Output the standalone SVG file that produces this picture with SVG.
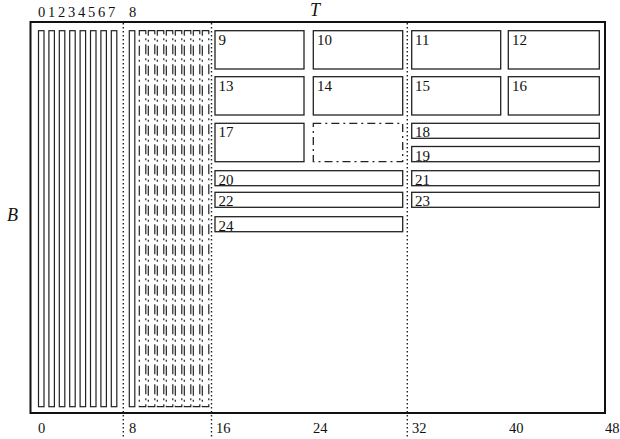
<svg xmlns="http://www.w3.org/2000/svg" width="620" height="439" viewBox="0 0 620 439">
<style>
text{font-family:"Liberation Serif","Times New Roman",serif;fill:#111}
.lbl{font-size:15px}
.ax{font-size:14.5px}
.it{font-size:18px;font-style:italic}
.bar{fill:none;stroke:#222;stroke-width:1.2}
.dd{fill:none;stroke:#222;stroke-width:1.2;stroke-dasharray:10 4 2 4}
.box{fill:none;stroke:#222;stroke-width:1.3}
.dot{fill:none;stroke:#222;stroke-width:1.4;stroke-dasharray:1.5 2.5}
</style>
<rect id="frame" x="30.5" y="22" width="574.5" height="391" fill="none" stroke="#111" stroke-width="2"/>
<g id="guides">
<line class="dot" x1="123.3" y1="23" x2="123.3" y2="437"/>
<line class="dot" x1="211.5" y1="23" x2="211.5" y2="437"/>
<line class="dot" x1="407.3" y1="23" x2="407.3" y2="437"/>
</g>
<g id="bars">
<rect class="bar" x="38.5" y="30.7" width="5.5" height="376"/>
<rect class="bar" x="48.9" y="30.7" width="5.5" height="376"/>
<rect class="bar" x="59.3" y="30.7" width="5.5" height="376"/>
<rect class="bar" x="69.7" y="30.7" width="5.5" height="376"/>
<rect class="bar" x="80.1" y="30.7" width="5.5" height="376"/>
<rect class="bar" x="90.5" y="30.7" width="5.5" height="376"/>
<rect class="bar" x="100.9" y="30.7" width="5.5" height="376"/>
<rect class="bar" x="111.3" y="30.7" width="5.5" height="376"/>
<rect class="bar" x="129.3" y="30.7" width="5.5" height="376"/>
</g>
<g id="dashbars">
<rect class="dd" x="139.3" y="30.7" width="6.5" height="376"/>
<rect class="dd" x="148.3" y="30.7" width="6.5" height="376"/>
<rect class="dd" x="157.3" y="30.7" width="6.5" height="376"/>
<rect class="dd" x="166.3" y="30.7" width="6.5" height="376"/>
<rect class="dd" x="175.3" y="30.7" width="6.5" height="376"/>
<rect class="dd" x="184.3" y="30.7" width="6.5" height="376"/>
<rect class="dd" x="193.3" y="30.7" width="6.5" height="376"/>
<rect class="dd" x="202.3" y="30.7" width="6.5" height="376"/>
</g>
<g id="n9"><rect class="box" x="215" y="30.7" width="89" height="38.3"/><text class="lbl" x="218.5" y="44.5">9</text></g>
<g id="n10"><rect class="box" x="313.3" y="30.7" width="89.4" height="38.3"/><text class="lbl" x="317" y="44.5">10</text></g>
<g id="n11"><rect class="box" x="411.7" y="30.7" width="89" height="38.3"/><text class="lbl" x="415" y="44.5">11</text></g>
<g id="n12"><rect class="box" x="508.3" y="30.7" width="91" height="38.3"/><text class="lbl" x="512" y="44.5">12</text></g>
<g id="n13"><rect class="box" x="215" y="76.7" width="89" height="38.3"/><text class="lbl" x="218.5" y="90.5">13</text></g>
<g id="n14"><rect class="box" x="313.3" y="76.7" width="89.4" height="38.3"/><text class="lbl" x="317" y="90.5">14</text></g>
<g id="n15"><rect class="box" x="411.7" y="76.7" width="89" height="38.3"/><text class="lbl" x="415" y="90.5">15</text></g>
<g id="n16"><rect class="box" x="508.3" y="76.7" width="91" height="38.3"/><text class="lbl" x="512" y="90.5">16</text></g>
<g id="n17"><rect class="box" x="215" y="123.3" width="89" height="38.4"/><text class="lbl" x="218.5" y="137">17</text></g>
<g id="nblank"><rect class="box" x="313.3" y="123.3" width="89.4" height="38.4" stroke-dasharray="8 4 2 4"/></g>
<g id="n18"><rect class="box" x="411.7" y="123.3" width="187.6" height="15"/><text class="lbl" x="415" y="137">18</text></g>
<g id="n19"><rect class="box" x="411.7" y="146.5" width="187.6" height="15.2"/><text class="lbl" x="415" y="160.5">19</text></g>
<g id="n20"><rect class="box" x="215" y="170.7" width="187.7" height="15"/><text class="lbl" x="218.5" y="184.5">20</text></g>
<g id="n21"><rect class="box" x="411.7" y="170.7" width="187.6" height="15"/><text class="lbl" x="415" y="184.5">21</text></g>
<g id="n22"><rect class="box" x="215" y="192.3" width="187.7" height="15"/><text class="lbl" x="218.5" y="206">22</text></g>
<g id="n23"><rect class="box" x="411.7" y="192.3" width="187.6" height="15"/><text class="lbl" x="415" y="206">23</text></g>
<g id="n24"><rect class="box" x="215" y="216.7" width="187.7" height="15"/><text class="lbl" x="218.5" y="230.5">24</text></g>
<g id="toplabels">
<text class="ax" x="41.5" y="16.5" text-anchor="middle">0</text>
<text class="ax" x="51.5" y="16.5" text-anchor="middle">1</text>
<text class="ax" x="61.5" y="16.5" text-anchor="middle">2</text>
<text class="ax" x="71.5" y="16.5" text-anchor="middle">3</text>
<text class="ax" x="81.5" y="16.5" text-anchor="middle">4</text>
<text class="ax" x="91.5" y="16.5" text-anchor="middle">5</text>
<text class="ax" x="101.5" y="16.5" text-anchor="middle">6</text>
<text class="ax" x="111.5" y="16.5" text-anchor="middle">7</text>
<text class="ax" x="132.5" y="16.5" text-anchor="middle">8</text>
<text class="it" x="310" y="16">T</text>
<text class="it" x="7" y="221">B</text>
</g>
<g id="bottomlabels">
<text class="ax" x="38" y="433">0</text>
<text class="ax" x="129" y="433">8</text>
<text class="ax" x="216" y="433">16</text>
<text class="ax" x="313" y="433">24</text>
<text class="ax" x="412" y="433">32</text>
<text class="ax" x="509" y="433">40</text>
<text class="ax" x="605" y="433">48</text>
</g>
</svg>
